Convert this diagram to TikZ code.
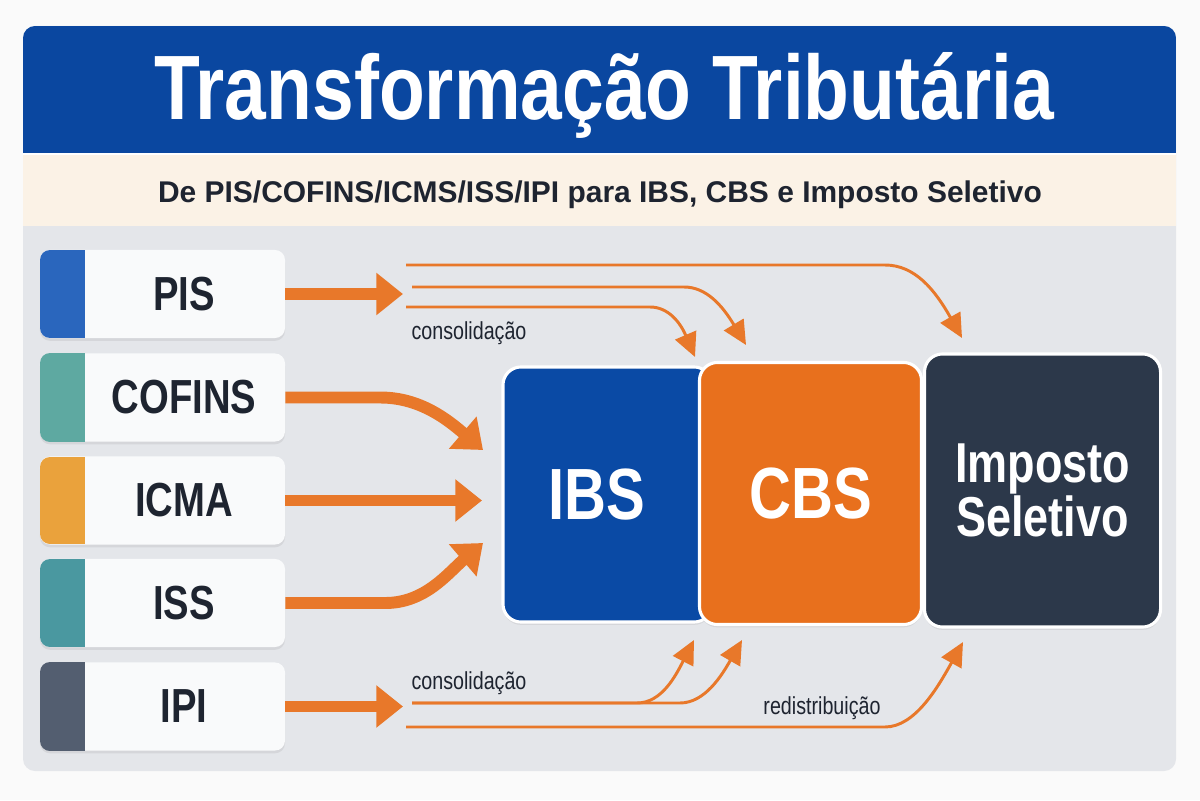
\documentclass[tikz,border=0pt]{standalone}
\usepackage{fontspec}
\setmainfont{Liberation Sans}
\newfontfamily\condfont{Liberation Sans}[FakeStretch=0.8]
\newfontfamily\titlefont{Liberation Sans}[FakeStretch=0.82]
\usetikzlibrary{arrows.meta,shadows}
\definecolor{pagebg}{HTML}{FAFAFA}
\definecolor{panelgray}{HTML}{E4E6EA}
\definecolor{hdrblue}{HTML}{0A47A0}
\definecolor{hdrbeige}{HTML}{FBF2E6}
\definecolor{boxwhite}{HTML}{F9FAFB}
\definecolor{inkdark}{HTML}{1E2430}
\definecolor{arrorange}{HTML}{E8782A}
\definecolor{ibsblue}{HTML}{0A4AA5}
\definecolor{cbsorange}{HTML}{E8701D}
\definecolor{isnavy}{HTML}{2C384A}
\definecolor{stripPIS}{HTML}{2A66BD}
\definecolor{stripCOF}{HTML}{5EA9A1}
\definecolor{stripICM}{HTML}{EAA23C}
\definecolor{stripISS}{HTML}{4A98A0}
\definecolor{stripIPI}{HTML}{535E70}

\begin{document}
\begin{tikzpicture}[x=0.025cm,y=-0.025cm,
  boxshadow/.style={drop shadow={shadow xshift=0pt,shadow yshift=-2pt,opacity=0.15}},
  taxbox/.style={rectangle,rounded corners=0.25cm,fill=boxwhite,minimum width=6.125cm,
    minimum height=2.2cm,inner sep=0pt,boxshadow},
  taxlbl/.style={text=inkdark,inner sep=0pt,font=\condfont\bfseries\fontsize{34}{36}\selectfont},
  bigbox/.style={rectangle,rounded corners=0.45cm,draw=white,line width=2.2pt,text=white,
    inner sep=0pt,boxshadow,font=\condfont\bfseries\fontsize{51.6}{56}\selectfont},
  fat/.style={draw=arrorange,line width=8.5pt,-{Triangle[length=19pt,width=29pt]}},
  feed/.style={draw=arrorange,line width=2.1pt,-{Triangle[length=17pt,width=16pt]}},
  note/.style={text=inkdark,inner sep=0pt,font=\condfont\fontsize{17.5}{20}\selectfont}]
  \useasboundingbox (0,0) rectangle (1200,800);
  \fill[pagebg] (0,0) rectangle (1200,800);
  % panel, header band and subtitle band
  \fill[panelgray,rounded corners=0.3cm] (23,26) rectangle (1176,771);
  \begin{scope}
    \clip[rounded corners=0.3cm] (23,26) rectangle (1176,771);
    \fill[hdrblue] (23,26) rectangle (1176,153);
    \fill[hdrbeige] (23,153) rectangle (1176,226);
  \end{scope}
  \draw[white,line width=1.2pt] (23,154) -- (1176,154);
  \node[text=white,anchor=base,inner sep=0pt,
    font=\titlefont\bfseries\fontsize{65}{70}\selectfont] (title) at (604,120) {Transformação Tributária};
  \node[text=inkdark,anchor=base,inner sep=0pt,
    font=\bfseries\fontsize{21.3}{24}\selectfont] (subtitle) at (600,202)
    {De PIS/COFINS/ICMS/ISS/IPI para IBS, CBS e Imposto Seletivo};

  % the old taxes
  \node[taxbox] (pis) at (162.5,294) {};
  \begin{scope}
    \clip[rounded corners=0.25cm] (40,250) rectangle (285,338);
    \fill[stripPIS] (40,250) rectangle (85,338);
  \end{scope}
  \node[taxlbl] (pis-lbl) at (184,294) {PIS};
  \node[taxbox] (cofins) at (162.5,397.5) {};
  \begin{scope}
    \clip[rounded corners=0.25cm] (40,353) rectangle (285,442);
    \fill[stripCOF] (40,353) rectangle (85,442);
  \end{scope}
  \node[taxlbl] (cofins-lbl) at (184,397.5) {COFINS};
  \node[taxbox] (icma) at (162.5,500.5) {};
  \begin{scope}
    \clip[rounded corners=0.25cm] (40,457) rectangle (285,544);
    \fill[stripICM] (40,457) rectangle (85,544);
  \end{scope}
  \node[taxlbl] (icma-lbl) at (184,500.5) {ICMA};
  \node[taxbox] (iss) at (162.5,603) {};
  \begin{scope}
    \clip[rounded corners=0.25cm] (40,559) rectangle (285,647);
    \fill[stripISS] (40,559) rectangle (85,647);
  \end{scope}
  \node[taxlbl] (iss-lbl) at (184,603) {ISS};
  \node[taxbox] (ipi) at (162.5,706.5) {};
  \begin{scope}
    \clip[rounded corners=0.25cm] (40,662) rectangle (285,751);
    \fill[stripIPI] (40,662) rectangle (85,751);
  \end{scope}
  \node[taxlbl] (ipi-lbl) at (184,706.5) {IPI};

  % thick arrows out of the old taxes
  \coordinate (hubtop) at (403,294);
  \coordinate (hubbot) at (403,706.5);
  \coordinate (ibsA) at (483,450);
  \coordinate (ibsB) at (482,500.5);
  \coordinate (ibsC) at (483,543);
  \draw[fat] (pis.east) -- (hubtop);
  \draw[fat] (cofins.east) -- ++(95,0) .. controls +(40,0) and +(-35,-30) .. (ibsA);
  \draw[fat] (icma.east) -- (ibsB);
  \draw[fat] (iss.east) -- ++(100,0) .. controls +(40,0) and +(-35,30) .. (ibsC);
  \draw[fat] (ipi.east) -- (hubbot);

  % consolidation lines on top
  \coordinate (upIS) at (406,265);
  \coordinate (upCBS) at (412,287);
  \coordinate (upIBS) at (406,307);
  \coordinate (inIS) at (962,338);
  \coordinate (inCBS) at (746,345);
  \coordinate (inIBS) at (695,357);
  \draw[feed] (upIS) -- ++(479,0) .. controls +(30,0) and +(-27,-48) .. (inIS);
  \draw[feed] (upCBS) -- ++(272,0) .. controls +(22,0) and +(-24,-40) .. (inCBS);
  \draw[feed] (upIBS) -- ++(244,0) .. controls +(18,0) and +(-15,-35) .. (inIBS);
  \node[note] (cons-top) at (469,333) {consolidação};

  % consolidation and redistribution lines below
  \coordinate (loA) at (412,703);
  \coordinate (loB) at (406,727);
  \coordinate (outIBS) at (694,640);
  \coordinate (outCBS) at (742,640);
  \coordinate (outIS) at (963,642);
  \draw[feed] (loA) -- ++(225,0) .. controls +(25,0) and +(-18,35) .. (outIBS);
  \draw[feed] (loA) -- ++(268,0) .. controls +(25,0) and +(-20,35) .. (outCBS);
  \draw[feed] (loB) -- ++(479,0) .. controls +(30,0) and +(-25,45) .. (outIS);
  \node[note] (cons-bot) at (469,683) {consolidação};
  \node[note] (redist) at (822,708) {redistribuição};

  % the new taxes
  \node[bigbox,fill=ibsblue,minimum width=5.225cm,minimum height=6.375cm] (ibs) at (607.5,494.5)
    {\hspace*{-0.55cm}IBS};
  \node[bigbox,fill=cbsorange,minimum width=5.55cm,minimum height=6.55cm] (cbs) at (810.5,493.5) {CBS};
  \node[bigbox,fill=isnavy,minimum width=5.9cm,minimum height=6.825cm,align=center,
    font=\condfont\bfseries\fontsize{40}{32.7}\selectfont] (is) at (1042.5,490.5) {Imposto\\Seletivo};
\end{tikzpicture}
\end{document}
